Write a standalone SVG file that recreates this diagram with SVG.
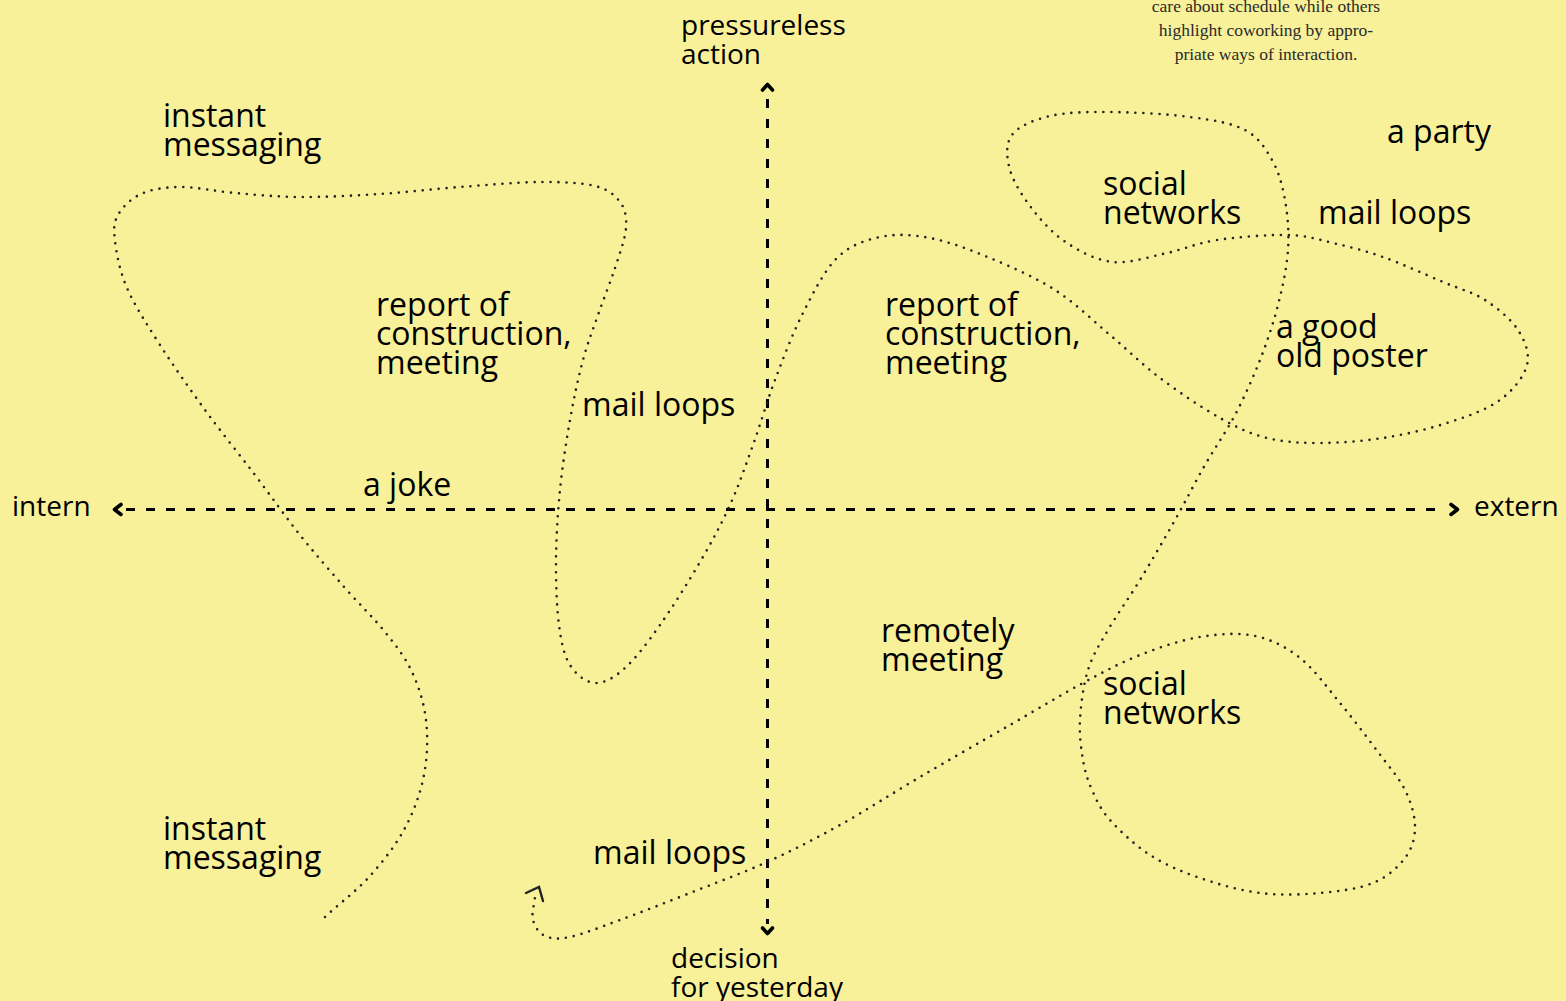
<svg xmlns="http://www.w3.org/2000/svg" width="1566" height="1001" viewBox="0 0 1566 1001">
<style>
.lbl{font-family:"Open Sans","Noto Sans","Liberation Sans",sans-serif;font-size:32px;fill:#000}
.ax{font-family:"Open Sans","Noto Sans","Liberation Sans",sans-serif;font-size:28px;fill:#000}
.note{font-family:"Liberation Serif","DejaVu Serif",serif;font-size:17.5px;fill:#2a2a2a;text-anchor:middle}
.axis{fill:none;stroke:#000;stroke-width:3;stroke-dasharray:9 11}
.head{fill:none;stroke:#000;stroke-width:3.6;stroke-linecap:round;stroke-linejoin:round}
.dots{fill:none;stroke:#222;stroke-width:2.6;stroke-linecap:round;stroke-dasharray:0 8}
.arr{fill:none;stroke:#222;stroke-width:2.4;stroke-linecap:round;stroke-linejoin:miter}
</style>
<rect width="1566" height="1001" fill="#f8f199"/>
<g id="connectors">
<path class="axis" d="M126,509.5 H1446"/>
<path class="head" d="M121,504.5 L114.5,509.5 L121,514.5"/>
<path class="head" d="M1451,504.5 L1457.5,509.5 L1451,514.5"/>
<path class="axis" d="M767.5,99 V924"/>
<path class="head" d="M762.5,90 L767.5,84.5 L772.5,90"/>
<path class="head" d="M762.5,928 L767.5,933.5 L772.5,928"/>
<path class="dots" d="M325,917 C340,903 356.7,890.8 370,876 S396,844.8 405,828 S420.5,793 424,775 S428,737.2 426,720 S418.8,686.7 412,672 S396.2,646 385,632 S359.2,604.2 345,588 S315,553.8 300,535 S270.8,495.8 255,475 S220.8,431.7 205,410 S173,365.3 160,345 S134.5,305.3 127,288 S116.5,253.2 115,241 S113.7,222.8 118,215 S130.7,198.7 141,194 S164.3,187.2 180,187 S215,191.3 235,193 S275.8,196.8 300,197 S353.3,195.7 380,194 S433.3,189 460,187 S517.5,182.2 540,182 S581.7,182.7 595,186 S614.8,195 620,202 S626.8,217 626,228 S619.7,253.5 615,268 S603.3,299.7 598,315 S587.7,342.5 583,360 S573.8,398.3 570,420 S562.3,466.7 560,490 S556.2,537.5 556,560 S556.7,607.5 559,625 S564,655.3 570,665 S585.8,682.5 595,683 S614.2,677.7 625,668 S647.5,642.7 660,625 S688.3,582 700,562 S721.2,524.5 730,505 S745.5,465.8 753,445 S766.7,402 775,380 S792.7,333.3 803,313 S824.2,270.7 837,258 S864.5,240.3 880,237 S911.7,234.5 930,238 S969.2,249.3 990,258 S1035,277.2 1055,290 S1092.5,320.3 1110,335 S1141.7,364.2 1160,378 S1202.2,408 1220,418 S1250.3,433.8 1267,438 S1300.7,443 1320,443 S1361.8,441.3 1383,438 S1427.5,429.3 1447,423 S1486.7,409.7 1500,400 S1524,376.7 1527,365 S1525,340.8 1518,330 S1497.5,308 1485,300 S1460,289.2 1443,282 S1401.3,263.5 1383,257 S1348.8,246.7 1333,243 S1307.3,235.5 1288,235 S1237.2,237 1217,240 S1184.3,249.3 1167,253 S1129.7,263.7 1113,262 S1080.3,251.7 1067,243 S1042.5,222.2 1033,210 S1013.5,182.5 1010,170 S1005.3,144 1012,135 S1033.7,119.8 1050,116 S1086.7,111.8 1110,112 S1167.5,114 1190,117 S1231.3,122.8 1245,130 S1265.3,148.3 1272,160 S1282.3,185 1285,200 S1289.2,232.5 1288,250 S1282.7,286.7 1278,305 S1267.2,341.7 1260,360 S1244.2,397.5 1235,415 S1215,447.5 1205,465 S1185.8,500.8 1175,520 S1151.2,561.7 1140,580 S1116.7,615 1108,630 S1092.7,655 1088,670 S1080.8,705 1080,720 S1081,748.3 1083,760 S1087.5,780 1092,790 S1100.3,809.2 1110,820 S1135,845.3 1150,855 S1181.7,871.7 1200,878 S1240,890.5 1260,893 S1301.2,894.7 1320,893 S1358.8,888.8 1373,883 S1398,867.3 1405,858 S1415,838.3 1415,827 S1411.2,802.5 1405,790 S1388.8,766.5 1378,752 S1353,718.7 1340,703 S1314.2,669.2 1300,658 S1271.7,639.5 1255,636 S1219.2,633.8 1200,637 S1159.5,647.3 1140,655 S1104.7,671.3 1083,683 S1037.2,709.3 1010,725 S948.3,760.3 920,777 S865.5,810.8 840,825 S792,850.7 767,862 S714.5,883.3 690,893 S640,912.7 620,920 S582.5,934.3 570,937 S551.2,938.8 545,936 S534.7,926.5 533,920 S534.3,904.7 535,897"/>
<path class="arr" d="M526,893 L539,887 L543,901"/>
</g>
<g id="note">
<text class="note" x="1266" y="12">care about schedule while others</text>
<text class="note" x="1266" y="36">highlight coworking by appro-</text>
<text class="note" x="1266" y="60">priate ways of interaction.</text>
</g>
<g id="axis-top"><text class="ax" x="681" y="35">pressureless</text><text class="ax" x="681" y="64">action</text></g>
<g id="axis-bottom"><text class="ax" x="671" y="968">decision</text><text class="ax" x="671" y="997">for yesterday</text></g>
<g id="axis-left"><text class="ax" x="12" y="516">intern</text></g>
<g id="axis-right"><text class="ax" x="1474" y="516">extern</text></g>
<g id="instant-messaging-top"><text class="lbl" x="163" y="127">instant</text><text class="lbl" x="163" y="156">messaging</text></g>
<g id="report-left"><text class="lbl" x="376" y="316">report of</text><text class="lbl" x="376" y="345">construction,</text><text class="lbl" x="376" y="374">meeting</text></g>
<g id="mail-loops-mid"><text class="lbl" x="582" y="416">mail loops</text></g>
<g id="a-joke"><text class="lbl" x="363" y="496">a joke</text></g>
<g id="report-right"><text class="lbl" x="885" y="316">report of</text><text class="lbl" x="885" y="345">construction,</text><text class="lbl" x="885" y="374">meeting</text></g>
<g id="social-networks-top"><text class="lbl" x="1103" y="195">social</text><text class="lbl" x="1103" y="224">networks</text></g>
<g id="a-party"><text class="lbl" x="1387" y="143">a party</text></g>
<g id="mail-loops-right"><text class="lbl" x="1318" y="224">mail loops</text></g>
<g id="good-old-poster"><text class="lbl" x="1276" y="338">a good</text><text class="lbl" x="1276" y="367">old poster</text></g>
<g id="remotely-meeting"><text class="lbl" x="881" y="642">remotely</text><text class="lbl" x="881" y="671">meeting</text></g>
<g id="social-networks-bottom"><text class="lbl" x="1103" y="695">social</text><text class="lbl" x="1103" y="724">networks</text></g>
<g id="instant-messaging-bottom"><text class="lbl" x="163" y="840">instant</text><text class="lbl" x="163" y="869">messaging</text></g>
<g id="mail-loops-bottom"><text class="lbl" x="593" y="864">mail loops</text></g>
</svg>
